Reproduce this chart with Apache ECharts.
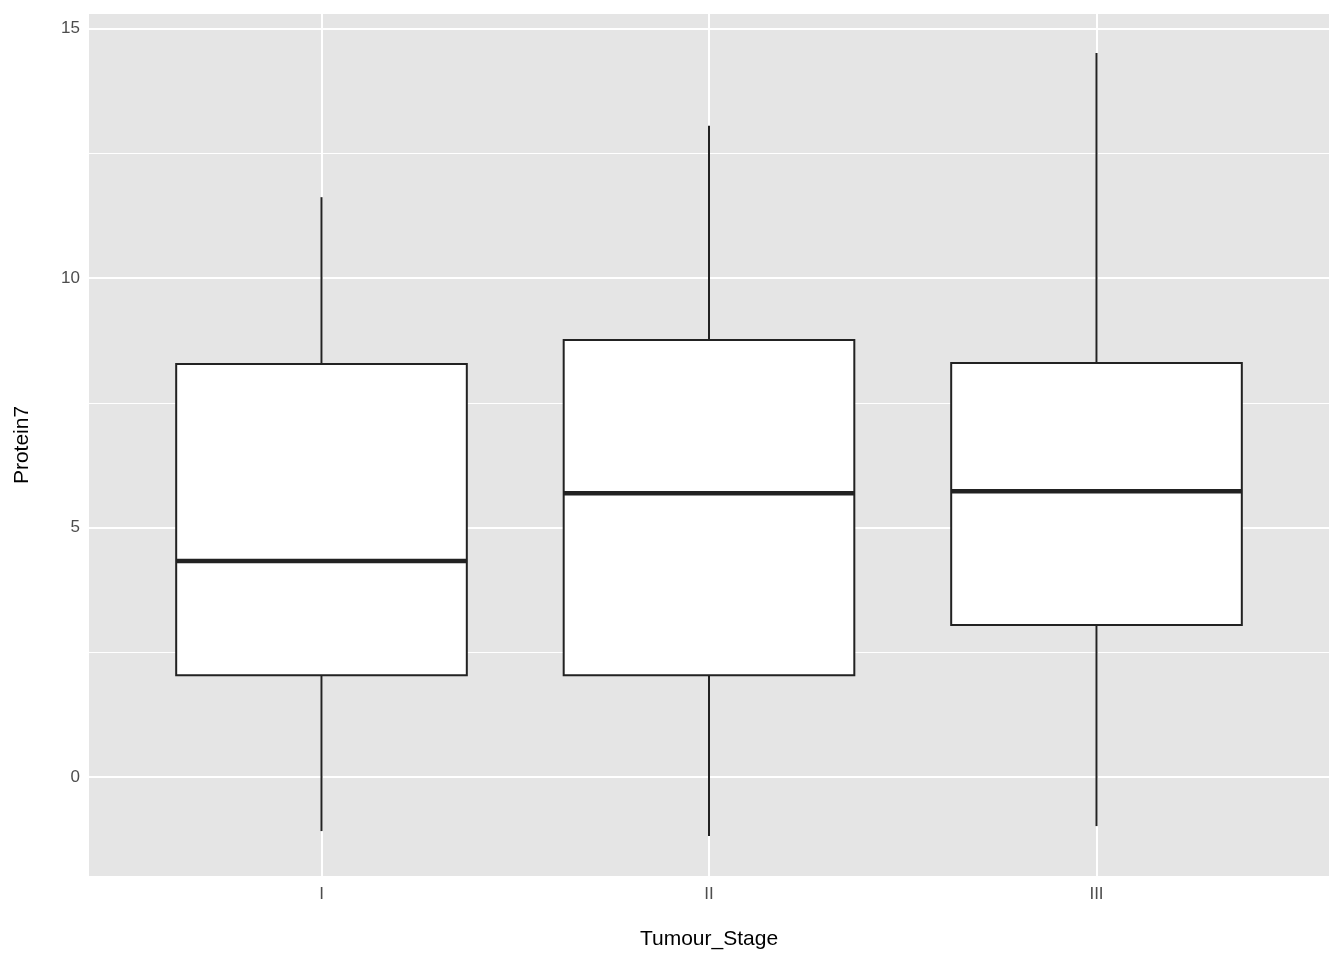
<!DOCTYPE html><html><head><meta charset="utf-8"><script src="https://cdn.jsdelivr.net/npm/echarts@6/dist/echarts.min.js"></script></head><body style="margin:0"><div id="c" style="width:1344px;height:960px"></div><script>
const categories=['I','II','III'];
const lowW=[-1.08,-1.18,-0.98];
const q1=[2.04,2.04,3.05];
const med=[4.33,5.69,5.73];
const q3=[8.28,8.76,8.30];
const highW=[11.62,13.05,14.51];
const majorTicks=[0,5,10,15];
const minorTicks=[2.5,7.5,12.5];
const catPos=[0,1,2];
const ch=echarts.init(document.getElementById('c'));
const grid=[...majorTicks.map(v=>({yAxis:v,lineStyle:{color:'#fff',width:2,type:'solid'}})),...minorTicks.map(v=>({yAxis:v,lineStyle:{color:'#fff',width:1,type:'solid'}})),...catPos.map(c=>({xAxis:c,lineStyle:{color:'#fff',width:2,type:'solid'}}))];
const font='Liberation Sans';
ch.setOption({animation:false,backgroundColor:'#fff',
grid:{left:89,right:15,top:14,bottom:84,show:true,backgroundColor:'#e5e5e5',borderWidth:0},
xAxis:{type:'value',min:-0.6,max:2.6,name:'Tumour_Stage',nameLocation:'middle',nameGap:53,nameTextStyle:{fontSize:21,color:'#000',fontFamily:font},axisLine:{show:false},
axisTick:{show:true,customValues:catPos,length:5,lineStyle:{color:'#333',width:1.5}},
axisLabel:{customValues:catPos,formatter:v=>categories[Math.round(v)],fontSize:17,color:'#4d4d4d',fontFamily:font,margin:10},splitLine:{show:false}},
yAxis:{type:'value',min:-1.98,max:15.29,name:'Protein7',nameLocation:'middle',nameGap:56,nameTextStyle:{fontSize:21,color:'#000',fontFamily:font},axisLine:{show:false},axisTick:{show:true,length:5,customValues:majorTicks,lineStyle:{color:'#333',width:1.5}},axisLabel:{customValues:majorTicks,fontSize:17,color:'#4d4d4d',fontFamily:font,margin:9},splitLine:{show:false}},
series:[{type:'custom',z:3,data:catPos.map((c,i)=>[c,lowW[i],q1[i],med[i],q3[i],highW[i]]),
renderItem:function(p,api){const x=api.value(0);const w=api.size([0.75,0])[0];
const c=api.coord([x,api.value(1)]),a=api.coord([x,api.value(2)]),m=api.coord([x,api.value(3)]),b=api.coord([x,api.value(4)]),h=api.coord([x,api.value(5)]);
const st={stroke:'#222',lineWidth:2};
return{type:'group',children:[
{type:'line',shape:{x1:c[0],y1:c[1],x2:a[0],y2:a[1]},style:st},
{type:'line',shape:{x1:b[0],y1:b[1],x2:h[0],y2:h[1]},style:st},
{type:'rect',shape:{x:a[0]-w/2,y:b[1],width:w,height:a[1]-b[1]},style:{fill:'#fff',stroke:'#222',lineWidth:2}},
{type:'line',shape:{x1:m[0]-w/2,y1:m[1],x2:m[0]+w/2,y2:m[1]},style:{stroke:'#222',lineWidth:4.5}}]};},
markLine:{silent:true,symbol:'none',label:{show:false},data:grid,z:1}}]});
</script></body></html>
